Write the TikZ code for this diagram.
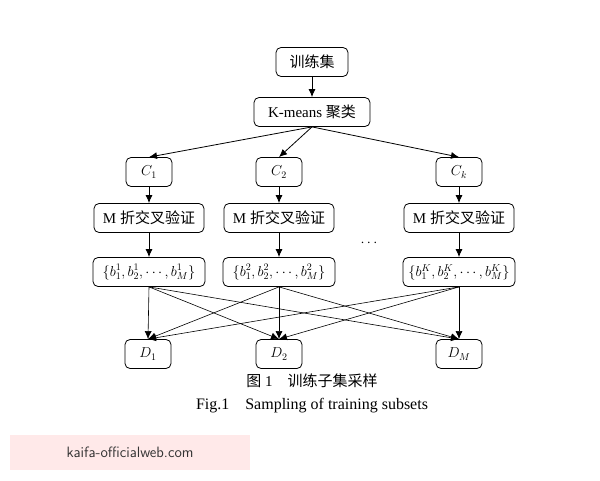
\documentclass[tikz,border=0pt]{standalone}
\usepackage{fontspec}
\setmainfont{Liberation Serif}
\newfontfamily\cjk{Noto Sans CJK SC}
\usetikzlibrary{arrows.meta}
\begin{document}
\begin{tikzpicture}[x=1pt,y=-1pt,
  bx/.style={draw,thick,rounded corners=5pt,minimum height=29pt,inner sep=2pt,font=\fontsize{15}{16}\selectfont},
  mbx/.style={bx,font=\Large},
  arr/.style={thick,-{Latex[length=8pt,width=7pt]}}]
\useasboundingbox (0,0) rectangle (600,480);
\fill[white] (0,0) rectangle (600,480);
\node[bx,minimum width=72pt] (t) at (312,62) {\cjk 训练集};
\node[bx,minimum width=116pt] (k) at (312,112) {K-means {\cjk 聚类}};
\foreach \n/\x/\s in {1/149/1,2/279/2,3/459/k}{
  \node[mbx,minimum width=46pt] (c\n) at (\x,172) {$C_{\s}$};
  \node[bx,minimum width=110pt] (m\n) at (\x,218) {M {\cjk 折交叉验证}};
  \draw[arr] (c\n) -- (m\n);
}
\node[mbx,minimum width=112pt,inner sep=1pt] (b1) at (149,272) {$\{b_1^1,b_2^1,\cdots,b_M^1\}$};
\node[mbx,minimum width=112pt,inner sep=1pt] (b2) at (279,272) {$\{b_1^2,b_2^2,\cdots,b_M^2\}$};
\node[mbx,minimum width=112pt,inner sep=1pt] (b3) at (459,272) {$\{b_1^K,b_2^K,\cdots,b_M^K\}$};
\foreach \n in {1,2,3}{\draw[arr] (m\n) -- (b\n);}
\node[font=\Large] (dots) at (369,243) {$\cdots$};
\node[mbx,minimum width=46pt] (d1) at (148,354) {$D_1$};
\node[mbx,minimum width=46pt] (d2) at (279,354) {$D_2$};
\node[mbx,minimum width=46pt] (d3) at (459,354) {$D_M$};
\draw[arr] (t) -- (k);
\draw[arr] (k.south) -- (c1.north);
\draw[arr] (k.south) -- (c2.north);
\draw[arr] (k.south) -- (c3.north);
\foreach \i in {1,2,3}{\foreach \j in {1,2,3}{
  \draw[arr,semithick] (b\i.south) -- (d\j.north);}}
\node[font=\fontsize{15}{16}\selectfont] (cap1) at (312,381) {{\cjk 图} 1\quad{\cjk 训练子集采样}};
\node[font=\fontsize{16}{17}\selectfont] (cap2) at (312,406) {Fig.1\quad Sampling of training subsets};
\fill[pink!35] (10,435) rectangle (250,470);
\node[font=\sffamily\fontsize{15}{16}\selectfont,text=black!80] (wm) at (130,452) {kaifa-officialweb.com};
\end{tikzpicture}
\end{document}
